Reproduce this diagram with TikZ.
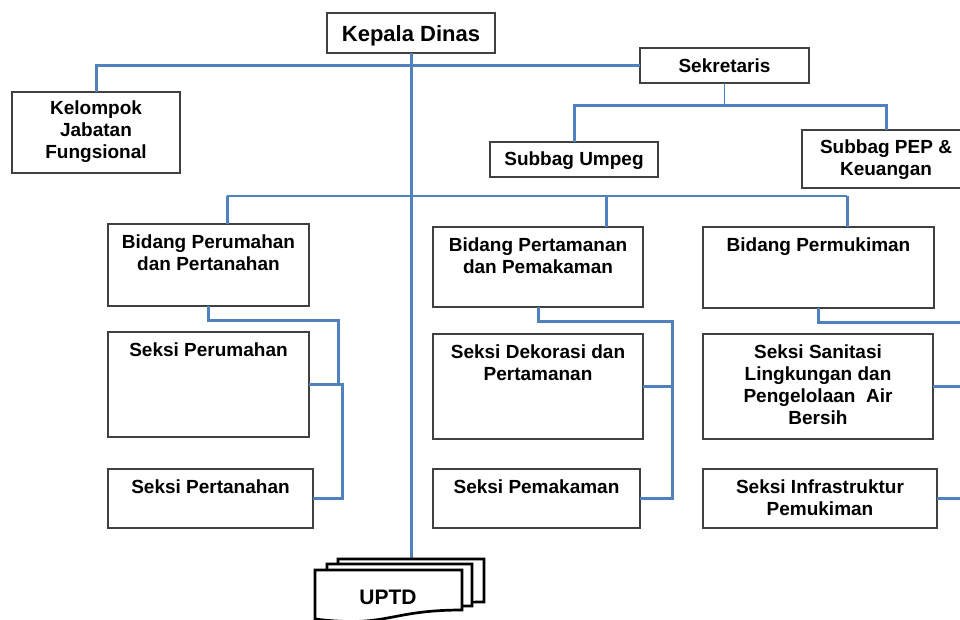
\documentclass[tikz,border=0pt]{standalone}
\usepackage{fontspec}
\setmainfont{Liberation Sans}
\usetikzlibrary{calc}
\definecolor{conn}{RGB}{79,129,189}
\begin{document}
\begin{tikzpicture}[x=1pt,y=-1pt,
  box/.style={draw=black!75,line width=1.2pt,fill=white,inner sep=0pt,outer sep=0pt,anchor=north west},
  lbl/.style={font=\fontsize{19}{22}\selectfont\bfseries,align=center,inner sep=0pt},
  toplbl/.style={lbl,anchor=north,yshift=-10.5pt},
  big/.style={font=\fontsize{22}{26}\selectfont\bfseries,inner sep=0pt},
  link/.style={draw=conn,line width=3pt},
  thinlink/.style={draw=conn,line width=1.5pt},
  doc/.style={draw=black,line width=2.7pt,fill=white,line join=miter}]
\clip (0,0) rectangle (960,619);
\fill[white] (0,0) rectangle (960,619);

% boxes
\node[box,minimum width=168pt,minimum height=40pt] (kd) at (327,13) {};
\node[box,minimum width=169pt,minimum height=35pt] (sek) at (640,48) {};
\node[box,minimum width=168pt,minimum height=81pt] (kel) at (12,92) {};
\node[box,minimum width=168pt,minimum height=35pt] (umpeg) at (490,142) {};
\node[box,minimum width=168pt,minimum height=58pt] (pep) at (802,130) {};
\node[box,minimum width=201pt,minimum height=82pt] (bperum) at (108,224) {};
\node[box,minimum width=210pt,minimum height=80pt] (bpert) at (433,227) {};
\node[box,minimum width=231pt,minimum height=81pt] (bperm) at (703,227) {};
\node[box,minimum width=201pt,minimum height=105pt] (sperum) at (108,332) {};
\node[box,minimum width=210pt,minimum height=105pt] (sdek) at (433,334) {};
\node[box,minimum width=230pt,minimum height=105pt] (ssan) at (703,334) {};
\node[box,minimum width=205pt,minimum height=59pt] (spert) at (108,469) {};
\node[box,minimum width=207pt,minimum height=59pt] (spem) at (433,469) {};
\node[box,minimum width=234pt,minimum height=59pt] (sinf) at (703,469) {};

% connectors
\coordinate (uptd) at (411,559);
\draw[link] (kel.north) |- (sek.west);
\draw[link] (kd.south) -- (uptd);
\coordinate (sbus) at (724.5,105);
\draw[thinlink] (sek.south) -- (sbus);
\draw[link] (umpeg.north) |- (sbus) -| (pep.north);
\coordinate (b1) at (227,196);
\coordinate (b2) at (606,196);
\coordinate (b3) at (847,196);
\draw[thinlink] (b1) -- (b3);
\draw[link] (b1) -- (b1 |- bperum.north);
\draw[link] (b2) -- (b2 |- bpert.north);
\draw[link] (b3) -- (b3 |- bperm.north);
% column 1
\draw[link] (bperum.south) -- ++(0,14) -| ($(sperum.east)+(29,0)$) -- (sperum.east);
\draw[link] (sperum.east) -- ++(33,0) |- (spert.east);
% column 2
\draw[link] (bpert.south) -- ++(0,14) -| ($(sdek.east)+(29,0)$) -- (sdek.east);
\draw[link] (sdek.east) -- ++(29,0) |- (spem.east);
% column 3
\coordinate (e1) at (975,322);
\coordinate (e2) at (975,386.5);
\coordinate (e3) at (975,498.5);
\draw[link] (bperm.south) |- (e1);
\draw[link] (ssan.east) -- (e2);
\draw[link] (sinf.east) -- (e3);

% UPTD stacked documents
\draw[doc] (338,559) -- (484,559) -- (484,602) .. controls (411,602) and (411,618) .. (338,610) -- cycle;
\draw[doc] (327,564) -- (472,564) -- (472,606) .. controls (400,606) and (400,622) .. (327,614) -- cycle;
\draw[doc] (315,570) -- (462,570) -- (462,610) .. controls (388,610) and (388,628) .. (315,619) -- cycle;
\node[font=\fontsize{21}{24}\selectfont\bfseries,inner sep=0pt] (uptdt) at (388,597) {UPTD};

% texts
\node[big] (kdt) at ([yshift=-2.5pt]kd.center) {Kepala Dinas};
\node[lbl] (sekt) at (sek.center) {Sekretaris};
\node[lbl] (kelt) at ([yshift=1pt]kel.center) {Kelompok\\Jabatan\\Fungsional};
\node[lbl] (umpegt) at ([yshift=-1.5pt]umpeg.center) {Subbag Umpeg};
\node[lbl] (pept) at ([yshift=-0.5pt]pep.center) {Subbag PEP \&\\Keuangan};
\node[toplbl] (bperumt) at (bperum.north) {Bidang Perumahan\\dan Pertanahan};
\node[toplbl] (bpertt) at (bpert.north) {Bidang Pertamanan\\dan Pemakaman};
\node[toplbl] (bpermt) at (bperm.north) {Bidang Permukiman};
\node[toplbl] (sperumt) at (sperum.north) {Seksi Perumahan};
\node[toplbl] (sdekt) at (sdek.north) {Seksi Dekorasi dan\\Pertamanan};
\node[toplbl] (ssant) at (ssan.north) {Seksi Sanitasi\\Lingkungan dan\\Pengelolaan\ \ Air\\Bersih};
\node[toplbl] (spertt) at (spert.north) {Seksi Pertanahan};
\node[toplbl] (spemt) at (spem.north) {Seksi Pemakaman};
\node[toplbl] (sinft) at (sinf.north) {Seksi Infrastruktur\\Pemukiman};
\end{tikzpicture}
\end{document}
